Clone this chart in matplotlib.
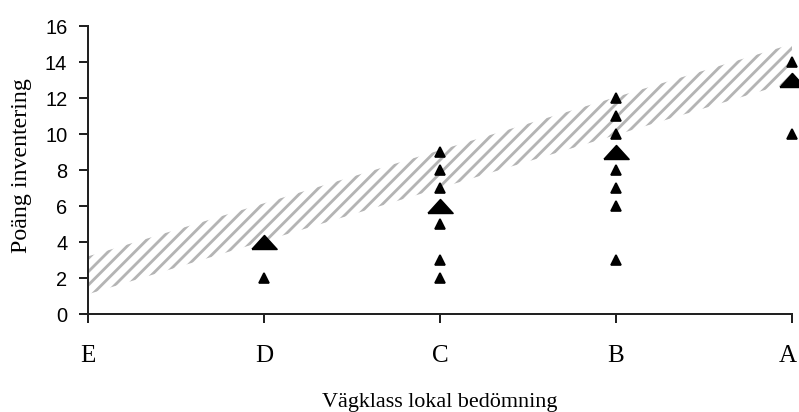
import matplotlib
matplotlib.use("Agg")
import matplotlib.pyplot as plt
import matplotlib.transforms as mtransforms
import numpy as np

# ---- data ----
categories = ["E", "D", "C", "B", "A"]
# individual observations (small markers)
small_cat = ["D", "C", "C", "C", "C", "C", "C",
             "B", "B", "B", "B", "B", "B", "B", "A", "A"]
small_val = [2, 9, 8, 7, 5, 3, 2,
             12, 11, 10, 8, 7, 6, 3, 14, 10]
# typical / median values (large markers)
big_cat = ["D", "C", "B", "A"]
big_val = [4, 6, 9, 13]
# hatched reference band (at E and A)
band_cat = ["E", "A"]
band_lower = [1.1, 12.9]
band_upper = [3.2, 15.0]
y_ticks = [0, 2, 4, 6, 8, 10, 12, 14, 16]

DPI = 120
plt.rcParams["hatch.linewidth"] = 1.7

fig = plt.figure(figsize=(799 / DPI, 412 / DPI), dpi=DPI)
ax = fig.add_axes([88 / 799, 1 - 314 / 412, 704 / 799, 288 / 412])

pos = {c: i for i, c in enumerate(categories)}

bx = [pos[c] for c in band_cat]
ax.fill_between(bx, band_lower, band_upper, facecolor="none",
                edgecolor="#b4b4b4", linewidth=0, hatch="///")

ax.plot([pos[c] for c in small_cat], small_val, linestyle="none",
        marker="^", markersize=6, color="black", clip_on=False, zorder=3)

big_marker = [(-1, -0.55), (1, -0.55), (0, 0.55), (-1, -0.55)]
ax.plot([pos[c] for c in big_cat], big_val, linestyle="none",
        marker=big_marker, markersize=15, color="black", clip_on=False, zorder=3)

ax.set_xlim(0, 4)
ax.set_ylim(0, 16)
ax.set_xticks(range(len(categories)))
ax.set_xticklabels(categories, family="Liberation Serif", fontsize=15)
ax.set_yticks(y_ticks)
ax.set_yticklabels([str(v) for v in y_ticks], family="Liberation Sans", fontsize=12)

for s in ["top", "right"]:
    ax.spines[s].set_visible(False)
for s in ["left", "bottom"]:
    ax.spines[s].set_linewidth(1.2)
    ax.spines[s].set_color("#222222")

ax.tick_params(axis="x", direction="out", length=5.4, width=1.2, color="#222222", pad=13.5)
ax.tick_params(axis="y", direction="out", length=5.4, width=1.2, color="#222222", pad=7)

# nudge the last category label so it stays inside the figure
last = ax.get_xticklabels()[-1]
last.set_transform(last.get_transform() +
                   mtransforms.ScaledTranslation(-4 / DPI, 0, fig.dpi_scale_trans))

ax.set_xlabel("Vägklass lokal bedömning", family="Liberation Serif", fontsize=13.3)
ax.xaxis.set_label_coords(0.5, -(402 - 314) / 288)
ax.xaxis.label.set_va("center")

ax.set_ylabel("Poäng inventering", family="Liberation Serif", fontsize=14.3)
ax.yaxis.set_label_coords((22 - 88) / 704, (314 - 166) / 288)
ax.yaxis.label.set_va("center")
ax.yaxis.label.set_ha("center")

fig.savefig("out.png", dpi=DPI)
